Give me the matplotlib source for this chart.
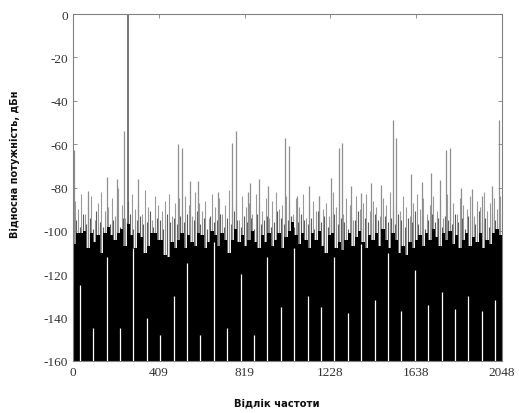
import numpy as np
import matplotlib.pyplot as plt

plt.rcParams['axes.unicode_minus'] = False

# Спектр сигналу, дБн: основа шуму (по 16 відліків), сірі викиди, паразитні складові
N_FFT = 2048
SEG = 16

body_db = [
    -106, -101, -101, -100, -108, -101, -105, -102, -110, -101, -98, -102, -104, -101,
    -99, -107, -97, -102, -108, -101, -103, -110, -107, -101, -101, -104, -104, -111,
    -112, -105, -108, -104, -101, -108, -102, -105, -107, -101, -102, -108, -105, -100,
    -102, -107, -101, -104, -110, -104, -99, -105, -102, -107, -104, -100, -105, -108,
    -102, -105, -101, -107, -104, -101, -108, -103, -100, -96, -102, -106, -101, -104,
    -108, -101, -104, -100, -107, -110, -102, -101, -108, -105, -109, -104, -101, -107,
    -103, -100, -105, -108, -102, -104, -101, -107, -99, -104, -108, -101, -104, -110,
    -107, -111, -105, -108, -104, -102, -107, -101, -104, -99, -103, -107, -101, -104,
    -100, -106, -102, -108, -104, -101, -107, -103, -105, -101, -108, -104, -106, -101,
    -99, -102,
]

# верхівки сірих викидів у кожному сегменті
grey_db = [
    -86, -90, -83, -92, -88, -84, -95, -87, -82, -91, -89, -85, -93, -80, -88, -94,
    -86, -83, -90, -87, -92, -81, -89, -95, -84, -88, -91, -86, -83, -93, -87, -85,
    -90, -84, -88, -93, -82, -87, -91, -86, -94, -83, -89, -85, -92, -88, -81, -90,
    -86, -95, -84, -89, -87, -92, -83, -88, -91, -85, -94, -86, -82, -90, -88, -84,
    -87, -92, -85, -89, -83, -94, -88, -86, -91, -84, -90, -87, -93, -82, -89, -86,
    -92, -85, -88, -95, -84, -90, -87, -83, -91, -86, -89, -93, -85, -88, -82, -90,
    -86, -91, -84, -89, -93, -87, -83, -90, -85, -92, -88, -84, -91, -86, -94, -83,
    -89, -87, -92, -85, -88, -90, -84, -93, -86, -89, -82, -91, -87, -85, -90, -84,
]

# другий ряд викидів, зсунутий на пів сегмента
grey2_db = [
    -95, -98, -92, -97, -94, -99, -91, -96, -98, -93, -97, -95, -90, -98, -94, -96,
    -92, -99, -95, -93, -97, -96, -91, -98, -94, -95, -99, -92, -96, -94, -97, -93,
    -96, -92, -98, -95, -91, -97, -94, -99, -93, -96, -95, -92, -98, -94, -97, -91,
    -95, -98, -93, -96, -94, -99, -92, -97, -95, -93, -98, -96, -91, -94, -97, -95,
    -93, -98, -96, -92, -95, -97, -94, -99, -91, -96, -93, -98, -95, -92, -97, -94,
    -96, -99, -93, -95, -91, -98, -94, -96, -97, -92, -95, -98, -93, -96, -94, -97,
    -92, -95, -98, -94, -96, -91, -97, -93, -99, -95, -92, -96, -94, -98, -93, -95,
    -97, -92, -96, -94, -99, -93, -95, -97, -91, -96, -94, -98, -92, -95, -97, -93,
]

# паразитні складові та несуча
spur_bins = [5, 70, 164, 212, 245, 309, 503, 520, 559, 595, 694, 761, 777, 837, 845,
             890, 932, 1012, 1033, 1068, 1128, 1175, 1230, 1270, 1286, 1326, 1373,
             1421, 1469, 1526, 1542, 1612, 1665, 1708, 1752, 1781, 1800, 1851, 1905,
             1953, 2002, 2035]
spur_db = [-62.5, -81.5, -75, -76, -54, -76, -60, -62, -77, -77, -82, -59.5, -54, -82,
           -78, -76, -79.5, -57.3, -60.7, -84, -79.5, -84, -75.8, -61.8, -59.5, -79.5,
           -82.5, -78, -78.8, -48.7, -57.3, -73.8, -77.6, -73.5, -76.5, -62.5, -61.8,
           -80.4, -80.7, -83.8, -79.1, -48.7]
carrier_bin = 264
carrier_db = 0

# провали шуму кожні 64 відліки
notch_bins = [32 + 64 * k for k in range(32)]
notch_db = [-125, -145, -112, -145, -108, -140, -148, -130, -115, -148, -105, -145,
            -120, -148, -112, -135, -108, -130, -135, -112, -138, -106, -132, -110,
            -137, -118, -134, -128, -136, -130, -137, -132]

x_ticks = [0, 409.6, 819.2, 1228.8, 1638.4, 2048]
x_labels = ['0', '409', '819', '1228', '1638', '2048']
y_ticks = list(range(-160, 1, 20))

fig = plt.figure(figsize=(5.19, 4.14), dpi=100)
ax = fig.add_axes([73 / 519, 52 / 414, 429 / 519, 347 / 414])

floor = -160
seg_centers = np.arange(len(body_db)) * SEG + SEG / 2

ax.vlines(seg_centers, floor, grey_db, color='#9a9a9a', lw=0.8, zorder=1)
ax.vlines(seg_centers + SEG / 2, floor, grey2_db, color='#5e5e5e', lw=0.8, zorder=1.2)
ax.vlines(spur_bins, floor, spur_db, color='#8f8f8f', lw=0.9, zorder=1.5)
ax.vlines([carrier_bin], floor, [carrier_db], color='#505050', lw=1.1, zorder=1.5)
ax.bar(seg_centers, np.array(body_db) - floor, bottom=floor, width=SEG,
       color='black', linewidth=0, zorder=2)
ax.vlines(notch_bins, floor, notch_db, color='white', lw=0.9, zorder=3)

ax.set_xlim(0, N_FFT)
ax.set_ylim(-160, 0)
ax.set_xticks(x_ticks)
ax.set_xticklabels(x_labels)
ax.set_yticks(y_ticks)
ax.set_yticklabels([str(v) for v in y_ticks])
ax.tick_params(direction='in', length=3, width=0.6, colors='#808080',
               top=True, right=True, labelsize=9.5, labelcolor='#333333')
for lbl in ax.get_xticklabels() + ax.get_yticklabels():
    lbl.set_family('Liberation Serif')
for s in ax.spines.values():
    s.set_color('#808080')
    s.set_linewidth(0.8)

fig.text(15 / 519, 1 - 164 / 414, 'Відносна потужність, дБн', rotation=90,
         ha='center', va='center', fontsize=7, fontweight='bold', color='#111111')
fig.text(277 / 519, 1 - 404 / 414, 'Відлік частоти', ha='center', va='center',
         fontsize=7.2, fontweight='bold', color='#111111')

fig.savefig('out.png', dpi=100)
